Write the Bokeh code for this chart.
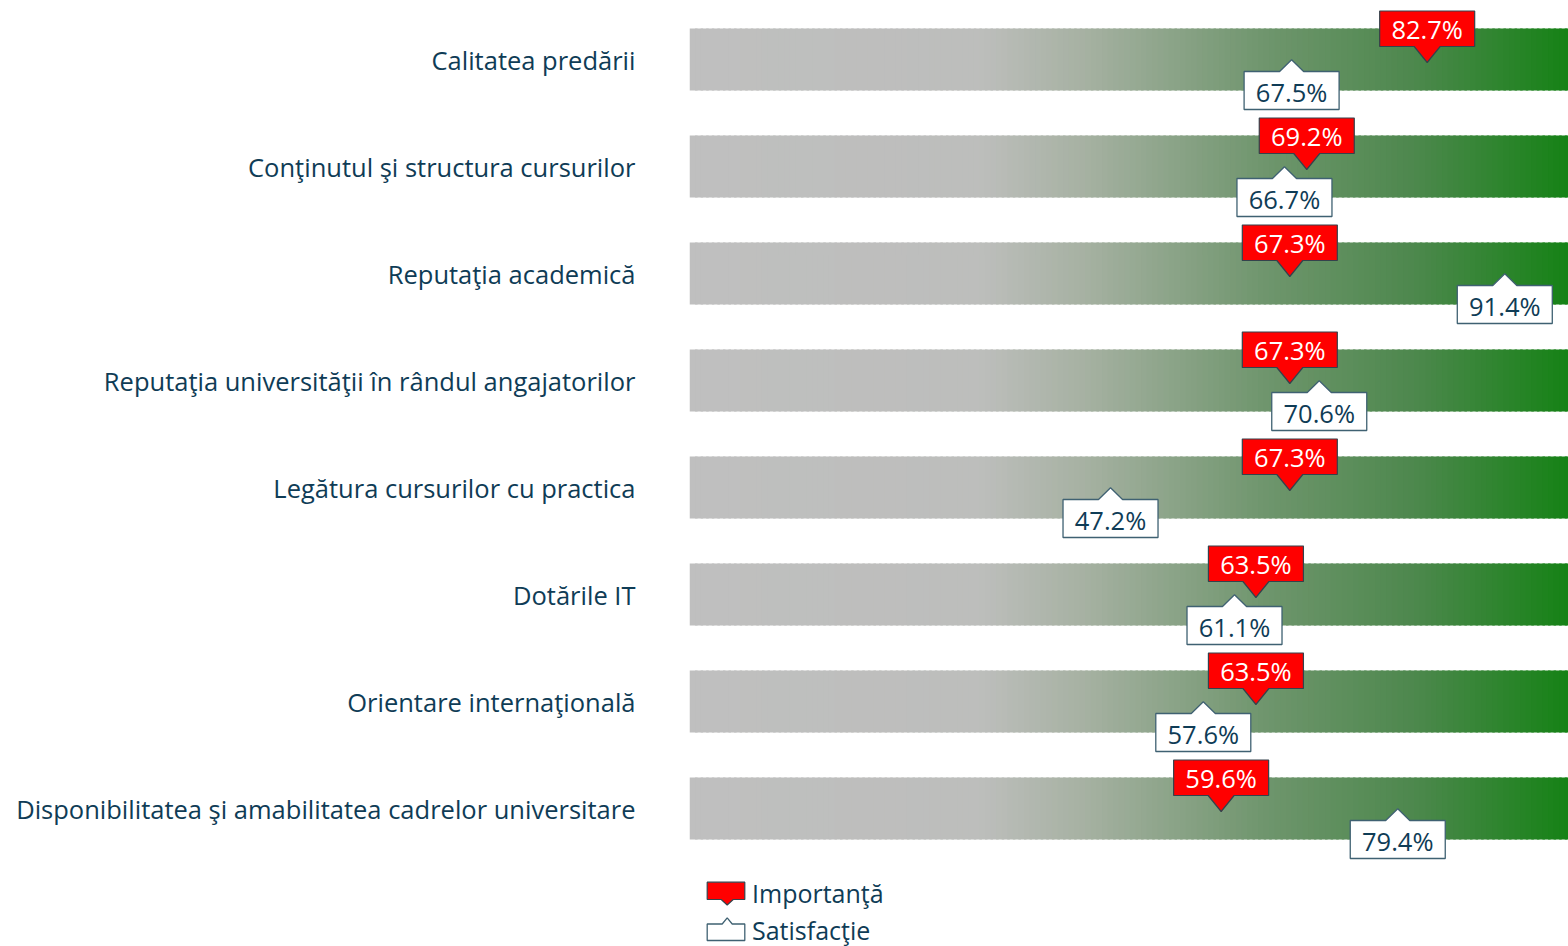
import numpy as np
from bokeh.plotting import figure
from bokeh.models import Range1d, FixedTicker, ColumnDataSource
from bokeh.core.properties import value
from bokeh.embed import file_html
from bokeh.resources import INLINE

# ---------------- data ----------------
categories = [
    "Calitatea predării",
    "Conţinutul şi structura cursurilor",
    "Reputaţia academică",
    "Reputaţia universităţii în rândul angajatorilor",
    "Legătura cursurilor cu practica",
    "Dotările IT",
    "Orientare internaţională",
    "Disponibilitatea şi amabilitatea cadrelor universitare",
]
importanta = [82.7, 69.2, 67.3, 67.3, 67.3, 63.5, 63.5, 59.6]
satisfactie = [67.5, 66.7, 91.4, 70.6, 47.2, 61.1, 57.6, 79.4]
series_names = ["Importanţă", "Satisfacţie"]
scale_max = 100.0

# ---------------- layout constants (pixels of the page) ----------------
PX = 8.92          # px per percent
ROW = 107.0        # px per row
X0, Y0 = 689.0, 59.0
def X(px): return (px - X0) / PX
def Y(py): return (py - Y0) / ROW

TEXT = "#0f3c56"
FONT = "Open Sans"

p = figure(width=1568, height=946,
           x_range=Range1d(0, X(1568)), y_range=Range1d(Y(946), Y(0)),
           output_backend="svg", toolbar_location=None, x_axis_location=None,
           min_border_left=689, min_border_right=0, min_border_top=0, min_border_bottom=0)
p.grid.visible = False
p.outline_line_color = None
p.background_fill_color = "white"
p.border_fill_color = "white"

# y axis with category names
ya = p.yaxis[0]
ya.ticker = FixedTicker(ticks=list(range(len(categories))))
ya.major_label_overrides = {i: c for i, c in enumerate(categories)}
ya.axis_line_color = None
ya.major_tick_line_color = None
ya.minor_tick_line_color = None
ya.major_tick_out = 0
ya.major_tick_in = 0
ya.minor_tick_out = 0
ya.major_label_standoff = 54
ya.major_label_text_font = FONT
ya.major_label_text_font_size = "25.5px"
ya.major_label_text_color = TEXT

# ---------------- gradient bars ----------------
stops = [(0.00, (191, 191, 191)), (0.33, (189, 190, 188)), (0.45, (166, 177, 162)),
         (0.65, (112, 150, 110)), (0.82, (78, 136, 78)), (1.00, (22, 130, 22))]
def grad(f):
    f = min(max(f, 0), 1)
    for (a, ca), (b, cb) in zip(stops[:-1], stops[1:]):
        if f <= b:
            t = (f - a) / (b - a)
            c = [int(round(ca[k] + (cb[k] - ca[k]) * t)) for k in range(3)]
            return "#%02x%02x%02x" % tuple(c)
    return "#%02x%02x%02x" % stops[-1][1]

N = 160
edges = np.linspace(0, scale_max, N + 1)
vis = X(1568)
overlap = 2.5 / PX
seg_l, seg_r, seg_y, seg_c = [], [], [], []
for i in range(len(categories)):
    for k in range(N):
        seg_l.append(edges[k])
        seg_r.append(min(edges[k + 1] + overlap, scale_max))
        seg_y.append(i)
        seg_c.append(grad(((edges[k] + edges[k + 1]) / 2) / vis))
p.hbar(y=seg_y, left=seg_l, right=seg_r, height=62 / ROW,
       fill_color=seg_c, line_color=None)

# ---------------- callouts ----------------
BW = 95 / PX / 2
def red_shape(v, i):
    pb = 13 / PX
    t, b, tip = i + Y(10.5), i + Y(46), i + Y(62)
    return ([v - BW, v + BW, v + BW, v + pb, v, v - pb, v - BW],
            [t, t, b, b, tip, b, b])
def white_shape(v, i):
    pb = 12 / PX
    apex, t, b = i + Y(59.3), i + Y(71), i + Y(109)
    return ([v - BW, v - pb, v, v + pb, v + BW, v + BW, v - BW],
            [t, t, apex, t, t, b, b])

ys = list(range(len(categories)))
wx, wy = zip(*[white_shape(v, i) for v, i in zip(satisfactie, ys)])
p.patches(list(wx), list(wy), fill_color="white", line_color="#3f6172", line_width=1.3)
rx, ry = zip(*[red_shape(v, i) for v, i in zip(importanta, ys)])
p.patches(list(rx), list(ry), fill_color="#ff0000", line_color="#34424c", line_width=1.2)

src_r = ColumnDataSource(dict(x=importanta, y=[i + Y(28) for i in ys],
                              t=["%.1f%%" % v for v in importanta]))
src_w = ColumnDataSource(dict(x=satisfactie, y=[i + Y(91) for i in ys],
                              t=["%.1f%%" % v for v in satisfactie]))
p.text(x="x", y="y", text="t", source=src_r, text_align="center", text_baseline="middle",
       text_font=value(FONT), text_font_size="25.5px", text_color="white")
p.text(x="x", y="y", text="t", source=src_w, text_align="center", text_baseline="middle",
       text_font=value(FONT), text_font_size="25.5px", text_color=TEXT)

# ---------------- legend (drawn) ----------------
lx0, lx1, lxc = X(706.7), X(744.3), X(726.7)
p.patch([lx0, lx1, lx1, lxc + 6 / PX, lxc, lxc - 6 / PX, lx0],
        [Y(881.7), Y(881.7), Y(899), Y(899), Y(904.5), Y(899), Y(899)],
        fill_color="#ff0000", line_color="#34424c", line_width=1.2)
p.patch([lx0, lxc - 5 / PX, lxc, lxc + 5 / PX, lx1, lx1, lx0],
        [Y(923.5), Y(923.5), Y(917.3), Y(923.5), Y(923.5), Y(940), Y(940)],
        fill_color="white", line_color="#3f6172", line_width=1.3)
p.text(x=[X(751.5)] * 2, y=[Y(892), Y(929)], text=series_names,
       text_align="left", text_baseline="middle",
       text_font=value(FONT), text_font_size="25px", text_color=TEXT)

open("out.html", "w").write(file_html(p, INLINE))
